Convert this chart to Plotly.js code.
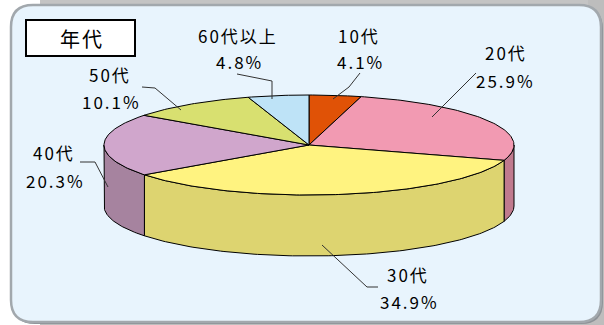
<!DOCTYPE html>
<html>
<head>
<meta charset="utf-8">
<script src="https://cdn.plot.ly/plotly-3.0.1.min.js"></script>
<style>
html,body{margin:0;padding:0;background:#fff;}
#chart{width:604px;height:325px;}
.annotation-text{letter-spacing:2px;}
</style>
</head>
<body>
<div id="chart"></div>
<script>
// ---- data ----
const categories = ['10代','20代','30代','40代','50代','60代以上'];
const values = [4.1, 25.9, 34.9, 20.3, 10.1, 4.8];
const topColors = ['#E05206','#F29AB2','#FFF380','#D0A6CC','#D8E070','#BEE3F7'];
const sideColors = ['#B04004','#C07A8E','#DDD470','#A6839F','#B0B658','#98B8C8'];
const chartTitle = '年代';

// label placement (layout, pixel space): [nameX, nameY, pctX, pctY]
const labelPos = [
  [359, 35, 360, 61],
  [506, 52, 505, 80],
  [408, 274, 409, 301],
  [54, 152, 55, 180],
  [110, 74, 111, 101],
  [238, 35, 239, 61]
];
const leaderPaths = [
  'M360,73 L349,87 L333,99',
  'M476,73 L432,117',
  'M322,245 L367,287 L378,287',
  'M80,162 L95,162 L108,187',
  'M142,87 L155,88 L181,110',
  'M237,74 L272,81 L272,99'
];

// ---- 3D pie geometry (layout) ----
const cx = 309, cy = 145, rx = 205, ry = 50, depth = 61;
function pt(th, dy){ return [cx + rx*Math.sin(th), cy - ry*Math.cos(th) + dy]; }

const total = values.reduce((a,b)=>a+b,0);
const angles = [];
let acc = 0;
values.forEach(v => { const a0 = acc/total*2*Math.PI; acc += v; angles.push([a0, acc/total*2*Math.PI]); });

function arc(a, b, dy){
  const n = Math.max(2, Math.ceil((b-a)/(Math.PI/180)));
  const xs=[], ys=[];
  for(let i=0;i<=n;i++){ const t=a+(b-a)*i/n; const p=pt(t,dy); xs.push(p[0]); ys.push(p[1]); }
  return [xs, ys];
}

const traces = [];
// side faces (front half only)
angles.forEach((ab, i) => {
  const a = Math.max(ab[0], Math.PI/2), b = Math.min(ab[1], 3*Math.PI/2);
  if (a < b){
    const top = arc(a, b, 0), bot = arc(a, b, depth);
    const xs = top[0].concat(bot[0].slice().reverse()); xs.push(top[0][0]);
    const ys = top[1].concat(bot[1].slice().reverse()); ys.push(top[1][0]);
    traces.push({type:'scatter', mode:'lines', x:xs, y:ys, fill:'toself',
      fillcolor:sideColors[i], line:{color:'#000', width:1}, hoverinfo:'skip', showlegend:false});
  }
});
// top faces
angles.forEach((ab, i) => {
  const t = arc(ab[0], ab[1], 0);
  const xs = [cx].concat(t[0]); xs.push(cx);
  const ys = [cy].concat(t[1]); ys.push(cy);
  traces.push({type:'scatter', mode:'lines', x:xs, y:ys, fill:'toself',
    fillcolor:topColors[i], line:{color:'#000', width:1}, hoverinfo:'skip', showlegend:false,
    name: categories[i]});
});

function rrect(x0,y0,x1,y1,r){
  return `M${x0+r},${y0} L${x1-r},${y0} Q${x1},${y0} ${x1},${y0+r} L${x1},${y1-r} Q${x1},${y1} ${x1-r},${y1} L${x0+r},${y1} Q${x0},${y1} ${x0},${y1-r} L${x0},${y0+r} Q${x0},${y0} ${x0+r},${y0} Z`;
}

const shapes = [
  {type:'rect', xref:'x', yref:'y', x0:40, x1:604, y0:0, y1:14, fillcolor:'#c4c4c4', line:{width:0}, layer:'below'},
  {type:'rect', xref:'x', yref:'y', x0:588, x1:604, y0:0, y1:325, fillcolor:'#bdbdbd', line:{width:0}, layer:'below'},
  {type:'rect', xref:'x', yref:'y', x0:40, x1:604, y0:312, y1:325, fillcolor:'#bdbdbd', line:{width:0}, layer:'below'},
  {type:'path', xref:'x', yref:'y', path:rrect(13,7,603,324,22), fillcolor:'#8d9297', line:{width:0}, layer:'below'},
  {type:'path', xref:'x', yref:'y', path:rrect(11,5,601,322,22), fillcolor:'#E8F4FD', line:{color:'#a2a8ad', width:2.5}, layer:'below'},
  {type:'rect', xref:'x', yref:'y', x0:26, x1:135, y0:20, y1:56, fillcolor:'#ffffff', line:{color:'#000', width:2}, layer:'above'}
];
leaderPaths.forEach(p => shapes.push({type:'path', xref:'x', yref:'y', path:p, line:{color:'#333', width:1}, layer:'above'}));

const font = {family:'"Noto Sans CJK JP", "Noto Sans", sans-serif', size:17, color:'#000'};
const annotations = [
  {x:82, y:38, xref:'x', yref:'y', text:chartTitle, showarrow:false, xanchor:'center', yanchor:'middle',
   font:{family:font.family, size:20, color:'#000'}}
];
categories.forEach((c, i) => {
  const p = labelPos[i];
  annotations.push({x:p[0], y:p[1], xref:'x', yref:'y', text:c, showarrow:false, xanchor:'center', yanchor:'middle', font:font});
  annotations.push({x:p[2], y:p[3], xref:'x', yref:'y', text:values[i].toFixed(1)+'%', showarrow:false, xanchor:'center', yanchor:'middle', font:font});
});

const layout = {
  width:604, height:325,
  margin:{l:0, r:0, t:0, b:0, pad:0},
  paper_bgcolor:'#ffffff', plot_bgcolor:'rgba(0,0,0,0)',
  xaxis:{range:[0,604], visible:false, fixedrange:true},
  yaxis:{range:[325,0], visible:false, fixedrange:true},
  shapes:shapes, annotations:annotations, showlegend:false
};
Plotly.newPlot('chart', traces, layout, {staticPlot:true, displayModeBar:false});
</script>
</body>
</html>
